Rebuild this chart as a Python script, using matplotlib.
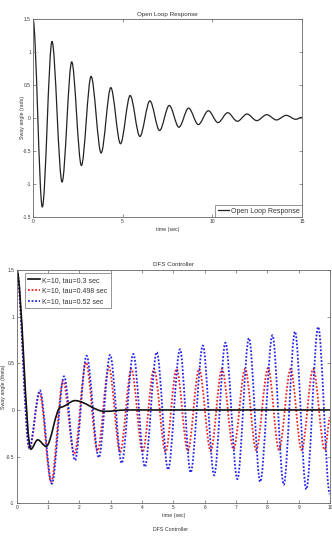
import matplotlib
matplotlib.use("Agg")
import matplotlib.pyplot as plt
from matplotlib.path import Path
from matplotlib.patches import PathPatch
from matplotlib.lines import Line2D

plt.rcParams["font.family"] = ["Liberation Sans", "DejaVu Sans"]

# open loop response: turning points (time, sway angle)
open_t = [0, 0.52, 1.06, 1.62, 2.16, 2.70, 3.24, 3.80, 4.34, 4.88, 5.42, 5.96,
          6.52, 7.06, 7.60, 8.14, 8.68, 9.22, 9.78, 10.32, 10.86, 11.40, 11.94,
          12.48, 13.04, 13.58, 14.12, 14.66, 15.0]
open_y = [1.5, -1.35, 1.16, -0.97, 0.85, -0.72, 0.63, -0.53, 0.46, -0.39, 0.34,
          -0.28, 0.26, -0.19, 0.19, -0.14, 0.15, -0.10, 0.11, -0.07, 0.08, -0.05,
          0.06, -0.04, 0.05, -0.03, 0.04, -0.02, 0.01]

# DFS controller, K=10, tau=0.3 sec
k03_t = [0, 0.45, 0.67, 0.94, 1.40, 1.86, 2.80, 3.50, 10.0]
k03_y = [1.5, -0.42, -0.32, -0.39, 0.03, 0.10, -0.015, 0.0, 0.0]

# tau=0.498 sec
k0498_t = [0, 0.41, 0.73, 1.10, 1.48, 1.84, 2.21, 2.58, 2.94, 3.30, 3.66, 4.02,
           4.38, 4.75, 5.10, 5.46, 5.82, 6.19, 6.55, 6.92, 7.29, 7.64, 8.02,
           8.37, 8.74, 9.09, 9.46, 9.83, 10.0]
k0498_y = [1.5, -0.41, 0.18, -0.77, 0.31, -0.47, 0.51, -0.44, 0.46, -0.45, 0.44,
           -0.45, 0.44, -0.45, 0.44, -0.44, 0.44, -0.44, 0.44, -0.42, 0.44,
           -0.43, 0.45, -0.43, 0.44, -0.43, 0.44, -0.43, -0.08]

# tau=0.52 sec
k052_t = [0, 0.40, 0.74, 1.12, 1.51, 1.86, 2.23, 2.62, 2.98, 3.35, 3.72, 4.09,
          4.47, 4.83, 5.21, 5.55, 5.94, 6.30, 6.66, 7.04, 7.41, 7.77, 8.16,
          8.52, 8.88, 9.24, 9.62, 9.99]
k052_y = [1.5, -0.41, 0.21, -0.79, 0.36, -0.54, 0.58, -0.51, 0.59, -0.57, 0.60,
          -0.61, 0.62, -0.64, 0.65, -0.67, 0.69, -0.70, 0.72, -0.74, 0.77,
          -0.77, 0.80, -0.80, 0.84, -0.85, 0.89, -0.90]

TEXT = "#333333"
EDGE = "#666666"


def smooth_path(t, y):
    # cubic segments with flat tangents at each turning point
    verts = [(t[0], y[0])]
    codes = [Path.MOVETO]
    for i in range(1, len(t)):
        dt = t[i] - t[i - 1]
        verts += [(t[i - 1] + dt / 3, y[i - 1]), (t[i] - dt / 3, y[i]), (t[i], y[i])]
        codes += [Path.CURVE4] * 3
    return Path(verts, codes)


def add_curve(ax, t, y, color, lw, ls="-"):
    patch = PathPatch(smooth_path(t, y), fill=False, edgecolor=color,
                      linewidth=lw, linestyle=ls, transform=ax.transData)
    ax.add_patch(patch)


def style_axes(ax):
    for s in ax.spines.values():
        s.set_color(EDGE)
        s.set_linewidth(0.6)
    ax.tick_params(direction="in", length=2, width=0.5, color=EDGE,
                   labelsize=3.5, labelcolor=TEXT, top=True, right=True, pad=1.5)


fig = plt.figure(figsize=(3.32, 5.38), dpi=100)

# top: open loop
ax1 = fig.add_axes([0.0994, 0.5967, 0.810, 0.368])
add_curve(ax1, open_t, open_y, "#222222", 0.9)
ax1.set_xlim(0, 15)
ax1.set_ylim(-1.5, 1.5)
ax1.set_xticks([0, 5, 10, 15])
ax1.set_yticks([-1.5, -1, -0.5, 0, 0.5, 1, 1.5])
ax1.set_yticklabels(["-1.5", "-1", "-0.5", "0", "0.5", "1", "1.5"])
style_axes(ax1)
ax1.set_title("Open Loop Response", fontsize=4.5, color=TEXT, pad=2.5)
ax1.set_xlabel("time (sec)", fontsize=3.8, color=TEXT, labelpad=2)
ax1.set_ylabel("Sway angle (rads)", fontsize=3.8, color=TEXT)
ax1.yaxis.set_label_coords(-0.03, 0.5)
leg1 = ax1.legend(handles=[Line2D([], [], color="#222222", lw=0.9, label="Open Loop Response")],
                  loc="lower right", fontsize=5, frameon=True, fancybox=False,
                  borderaxespad=0, handlelength=1.6, handletextpad=0.3,
                  borderpad=0.35, labelcolor=TEXT)
leg1.get_frame().set_edgecolor(EDGE)
leg1.get_frame().set_linewidth(0.6)

# bottom: DFS controller
ax2 = fig.add_axes([0.0503, 0.0645, 0.944, 0.4337])
add_curve(ax2, k0498_t, k0498_y, "#ee2222", 1.3, (0, (1, 1)))
add_curve(ax2, k052_t, k052_y, "#2222ee", 1.3, (0, (1, 1)))
add_curve(ax2, k03_t, k03_y, "#111111", 1.2)
ax2.set_xlim(0, 10)
ax2.set_ylim(-1, 1.5)
ax2.set_xticks(range(0, 11))
ax2.set_yticks([-1, -0.5, 0, 0.5, 1, 1.5])
ax2.set_yticklabels(["-1", "-0.5", "0", "0.5", "1", "1.5"])
style_axes(ax2)
ax2.set_title("DFS Controller", fontsize=4.5, color=TEXT, pad=2.5)
ax2.set_xlabel("time (sec)", fontsize=3.8, color=TEXT, labelpad=2)
ax2.set_ylabel("Sway angle (theta)", fontsize=3.8, color=TEXT)
ax2.yaxis.set_label_coords(-0.033, 0.5)
handles = [
    Line2D([], [], color="#111111", lw=1.2, label="K=10, tau=0.3 sec"),
    Line2D([], [], color="#ee2222", lw=1.3, ls=(0, (1, 1)), label="K=10, tau=0.498 sec"),
    Line2D([], [], color="#2222ee", lw=1.3, ls=(0, (1, 1)), label="K=10, tau=0.52 sec"),
]
leg2 = ax2.legend(handles=handles, loc="upper left", bbox_to_anchor=(0.025, 0.985),
                  fontsize=5, frameon=True, fancybox=False, borderaxespad=0,
                  handlelength=1.8, handletextpad=0.3, borderpad=0.45,
                  labelspacing=0.55, labelcolor=TEXT)
leg2.get_frame().set_edgecolor(EDGE)
leg2.get_frame().set_linewidth(0.6)

fig.text(0.515, 0.0167, "DFS Controller", fontsize=3.8, color=TEXT, ha="center", va="center")

fig.savefig("out.png", dpi=100)
